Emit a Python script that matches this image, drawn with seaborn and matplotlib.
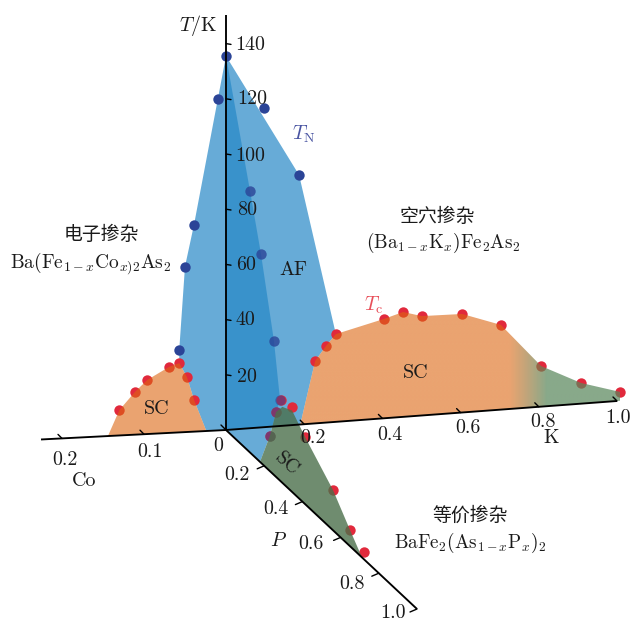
import numpy as np
import pandas as pd
import matplotlib
matplotlib.use("Agg")
import matplotlib.pyplot as plt
from matplotlib.patches import Polygon
import seaborn as sns

# ---- data: (doping, temperature / K) ----
T_top = 135.5
co_af_x = [0, 0.01, 0.039, 0.05, 0.057, 0.057, 0.0476, 0.039, 0.024, 0]
co_af_t = [T_top, 120, 75, 60, 30, 25.1, 19.9, 11.5, 0, 0]
co_tn_x = [0, 0.01, 0.039, 0.05, 0.057]
co_tn_t = [T_top, 120, 75, 60, 30]
co_tc_x = [0.13, 0.111, 0.096, 0.0695, 0.057, 0.0476, 0.039]
co_tc_t = [9.2, 15.5, 19.6, 23.9, 25.1, 19.9, 11.5]
co_sc_x = [0.144] + co_tc_x + [0.024]
co_sc_t = [0] + co_tc_t + [0]

k_af_x = [0, 0.187, 0.281, 0.256, 0.228, 0.19, 0]
k_af_t = [T_top, 90.4, 31.8, 27.8, 22.6, 0, 0]
k_tn_x = [0.097, 0.187]
k_tn_t = [115.6, 90.4]
k_tc_x = [0.228, 0.256, 0.281, 0.404, 0.453, 0.501, 0.604, 0.703, 0.806, 0.908, 1.008]
k_tc_t = [22.6, 27.8, 31.8, 36, 38, 36, 35.7, 30.7, 14.7, 7.5, 3.2]
k_sc_x = [0.19] + k_tc_x + [1.008]
k_sc_t = [0] + k_tc_t + [0]

p_af_x = [0, 0.126, 0.183, 0.251, 0.283, 0.262, 0.23, 0.178, 0]
p_af_t = [T_top, 94.7, 75.7, 48.6, 29.2, 23.5, 12.8, 0, 0]
p_tn_x = [0.126, 0.183, 0.251]
p_tn_t = [94.7, 75.7, 48.6]
p_tn_low_x = [0.283, 0.262, 0.23]
p_tn_low_t = [29.2, 23.5, 12.8]
p_tc_x = [0.29, 0.262, 0.23, 0.346, 0.414, 0.56, 0.649, 0.723]
p_tc_t = [29.6, 23.5, 12.8, 30.8, 24.3, 14.6, 5.9, 2.7]
p_sc_x = [0.178, 0.23, 0.262, 0.295, 0.346, 0.414, 0.56, 0.649, 0.712]
p_sc_t = [0, 12.8, 23.5, 27.5, 29.5, 24.3, 14.6, 5.9, 0]

t_ticks = [20, 40, 60, 80, 100, 120, 140]
k_ticks = [0.2, 0.4, 0.6, 0.8, 1.0]
co_ticks = [0.1, 0.2]
p_ticks = [0.2, 0.4, 0.6, 0.8, 1.0]

# ---- oblique projection of the three doping planes ----
O = np.array([226.0, 430.0])
K_V = np.array([391.0, -29.0])
CO_V = np.array([-820.0, 42.0])
P_V = np.array([191.0, 179.0])
T_V = np.array([0.0, -2.76])


def proj(v, x, t):
    x, t = np.asarray(x, float), np.asarray(t, float)
    return O[0] + v[0] * x + T_V[0] * t, O[1] + v[1] * x + T_V[1] * t


def frame(v, x, t):
    px, py = proj(v, x, t)
    return pd.DataFrame({"px": px, "py": py})


sns.set_theme(style="white")
plt.rcParams["font.family"] = ["cmr10", "Noto Sans CJK SC", "DejaVu Sans"]
plt.rcParams["mathtext.fontset"] = "cm"
plt.rcParams["axes.unicode_minus"] = False
plt.rcParams["axes.formatter.use_mathtext"] = True

fig = plt.figure(figsize=(6.32, 6.21), dpi=100)
ax = fig.add_axes([0, 0, 1, 1])
ax.axis("off")

BLUE = (38 / 255, 136 / 255, 199 / 255)
DOT_BLUE = "#2B4497"
DOT_RED = "#E1293C"
ORANGE = (220 / 255, 102 / 255, 17 / 255)
GREEN = (75 / 255, 112 / 255, 75 / 255)
GREEN_K = (90 / 255, 135 / 255, 92 / 255)


def fill(v, x, t, color, alpha, z):
    px, py = proj(v, x, t)
    patch = Polygon(np.c_[px, py], closed=True, fc=color, ec="none", alpha=alpha, zorder=z)
    ax.add_patch(patch)
    return patch


def dots(v, x, t, color, z, alpha=1.0):
    sns.scatterplot(data=frame(v, x, t), x="px", y="py", ax=ax, color=color,
                    s=56, linewidth=0, alpha=alpha, zorder=z, legend=False)


fill(CO_V, co_af_x, co_af_t, BLUE, 0.7, 1)
fill(K_V, k_af_x, k_af_t, BLUE, 0.7, 1)
fill(P_V, p_af_x, p_af_t, BLUE, 0.7, 1)

dots(CO_V, co_tc_x, co_tc_t, DOT_RED, 2)
dots(K_V, k_tc_x, k_tc_t, DOT_RED, 2)
dots(P_V, p_tc_x, p_tc_t, DOT_RED, 2)
dots(P_V, p_tn_low_x, p_tn_low_t, DOT_BLUE, 2.5, alpha=0.55)

fill(CO_V, co_sc_x, co_sc_t, ORANGE, 0.6, 3)
fill(P_V, p_sc_x, p_sc_t, GREEN, 0.8, 3)

# K side superconducting dome: orange fading to green
kx, ky = proj(K_V, k_sc_x, k_sc_t)
clip = Polygon(np.c_[kx, ky], closed=True, transform=ax.transData, fc="none", ec="none")
ax.add_patch(clip)
n = 400
xs = np.linspace(kx.min(), kx.max(), n)
w = np.clip((xs - 510) / (547 - 510), 0, 1)[:, None]
c0, c1 = np.array(ORANGE + (0.6,)), np.array(GREEN_K + (0.72,))
rgba = (c0 * (1 - w) + c1 * w)[None, :, :]
im = ax.imshow(rgba, extent=[kx.min(), kx.max(), ky.max(), ky.min()], aspect="auto",
               interpolation="bilinear", zorder=3)
im.set_clip_path(clip)

dots(CO_V, co_tn_x, co_tn_t, DOT_BLUE, 4)
dots(K_V, k_tn_x, k_tn_t, DOT_BLUE, 4)
dots(P_V, p_tn_x, p_tn_t, DOT_BLUE, 4, alpha=0.8)

# axes
LINE = dict(color="black", lw=1.35, zorder=5, solid_capstyle="butt")
ax.plot([O[0], O[0]], [O[1], 15], **LINE)
for v, end in ((K_V, 1.0), (CO_V, 0.2256), (P_V, 1.0)):
    px, py = proj(v, [0, end], [0, 0])
    ax.plot(px, py, **LINE)

TICK = dict(color="black", lw=1.0, zorder=5)
for t in t_ticks:
    px, py = proj(K_V, 0, t)
    ax.plot([px, px + 5], [py, py + 0.8], **TICK)
for v, ticks in ((K_V, k_ticks), (CO_V, co_ticks)):
    for x in ticks:
        px, py = proj(v, x, 0)
        ax.plot([px, px - 4], [py, py - 4], **TICK)
px, py = proj(K_V, 0, 0)
ax.plot([px, px - 5], [py, py - 5], **TICK)
for x in p_ticks:
    px, py = proj(P_V, x, 0)
    ax.plot([px, px - 7], [py, py + 3], **TICK)

# text
FS = 14.4
TXT = "#1a1a1a"


def label(x, y, s, size=FS, color=TXT, rotation=0, family=None, dy=1.8):
    kw = dict(family=family) if family else {}
    ax.text(x, y + dy, s, fontsize=size, color=color, ha="center", va="center",
            rotation=rotation, zorder=6, rotation_mode="anchor", **kw)


t_label_x = [247, 245, 246, 247, 250, 252, 250]
t_label_y = [375, 318, 263, 208, 154, 97, 43]
for t, x, y in zip(t_ticks, t_label_x, t_label_y):
    label(x, y, str(t))
for s, x, y in zip(k_ticks, [313, 390, 468, 543, 618], [436, 433, 426, 420, 416]):
    label(x, y, f"{s:.1f}")
for s, x, y in zip(co_ticks, [150, 65], [450, 458]):
    label(x, y, f"{s:.1f}")
label(218, 444, "0")
for s, x, y in zip(p_ticks, [237, 276, 311, 352, 393], [473, 507, 542, 582, 611.5]):
    label(x, y, f"{s:.1f}")

label(551, 436, "K")
label(84, 479, "Co")
label(278, 539, r"$P$")
label(198, 24, r"$T/\mathrm{K}$")
label(304, 132, r"$T_{\mathrm{N}}$", color="#4A55A2")
label(374, 303, r"$T_{\mathrm{c}}$", color="#E8505A")
label(293, 268, "AF")
label(157, 407, "SC")
label(416, 371, "SC")
label(287, 464, "SC", rotation=-42, dy=0)

CJK = ["Noto Sans CJK SC", "DejaVu Sans"]
label(101, 234, "电子掺杂", size=13.6, family=CJK, dy=0)
label(470, 515, "等价掺杂", size=13.6, family=CJK, dy=0)
label(437, 216, "空穴掺杂", size=13.6, family=CJK, dy=0)
label(91, 262, r"$\mathrm{Ba(Fe}_{1-x}\mathrm{Co}_{x)2}\mathrm{As}_{2}$", size=14, dy=0.8)
label(443, 242, r"$\mathrm{(Ba}_{1-x}\mathrm{K}_{x}\mathrm{)Fe}_{2}\mathrm{As}_{2}$", size=13.8, dy=0.8)
label(470, 542, r"$\mathrm{BaFe}_{2}\mathrm{(As}_{1-x}\mathrm{P}_{x}\mathrm{)}_{2}$", size=13.8, dy=0.8)

ax.set_xlim(0, 632)
ax.set_ylim(621, 0)
ax.set_xlabel("")
ax.set_ylabel("")
fig.savefig("out.png", dpi=100)
